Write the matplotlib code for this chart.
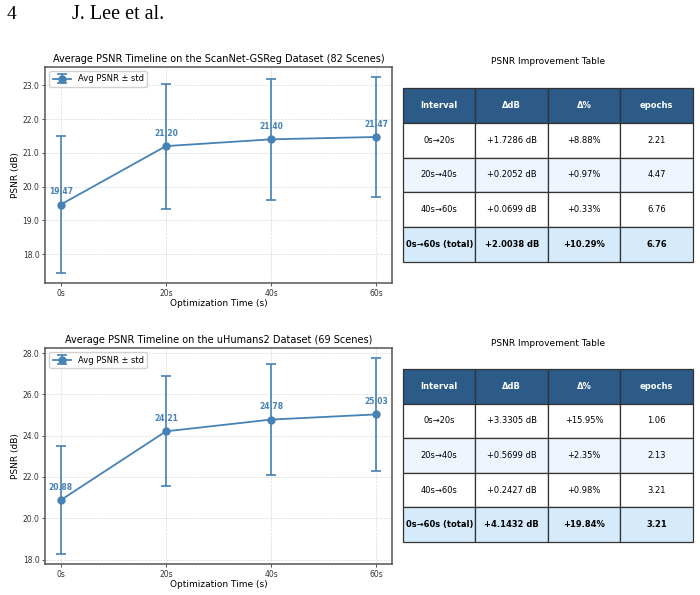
import matplotlib
matplotlib.use("Agg")
import matplotlib.pyplot as plt
import numpy as np

times = [0, 20, 40, 60]
time_labels = ["0s", "20s", "40s", "60s"]

scannet_mean = [19.47, 21.20, 21.40, 21.47]
scannet_std = [2.03, 1.85, 1.80, 1.78]
uhumans_mean = [20.88, 24.21, 24.78, 25.03]
uhumans_std = [2.62, 2.67, 2.70, 2.74]

table_cols = ["Interval", "\u0394dB", "\u0394%", "epochs"]
intervals = ["0s\u219220s", "20s\u219240s", "40s\u219260s", "0s\u219260s (total)"]
scannet_ddb = ["+1.7286 dB", "+0.2052 dB", "+0.0699 dB", "+2.0038 dB"]
scannet_dpct = ["+8.88%", "+0.97%", "+0.33%", "+10.29%"]
scannet_epochs = ["2.21", "4.47", "6.76", "6.76"]
uhumans_ddb = ["+3.3305 dB", "+0.5699 dB", "+0.2427 dB", "+4.1432 dB"]
uhumans_dpct = ["+15.95%", "+2.35%", "+0.98%", "+19.84%"]
uhumans_epochs = ["1.06", "2.13", "3.21", "3.21"]

LINE = "#4682b4"
HEADER = "#2b5b86"
ALT = "#eef5fe"
TOTAL = "#d5eafb"

fig = plt.figure(figsize=(7.0, 5.95), dpi=100)

fig.text(0.010, 0.975, "4", family="Liberation Serif", fontsize=14, va="center")
fig.text(0.103, 0.975, "J. Lee et al.", family="Liberation Serif", fontsize=14.5, va="center")


def draw_chart(rect, means, stds, title):
    ax = fig.add_axes(rect)
    ax.errorbar(times, means, yerr=stds, color=LINE, marker="o", markersize=5,
                linewidth=1.3, capsize=3.5, elinewidth=1.2, capthick=1.2,
                label="Avg PSNR \u00b1 std")
    for t, m in zip(times, means):
        ax.annotate(f"{m:.2f}", (t, m), xytext=(0, 6), textcoords="offset points",
                    ha="center", va="bottom", fontsize=5.5, fontweight="bold",
                    color=LINE)
    ax.set_xticks(times)
    ax.set_xticklabels(time_labels)
    ax.yaxis.set_major_formatter(matplotlib.ticker.FormatStrFormatter("%.1f"))
    ax.tick_params(labelsize=5.5, length=2.5, width=0.6, pad=1.5, colors="#333333")
    ax.grid(True, linestyle="--", color="#cccccc", linewidth=0.5, alpha=0.7)
    ax.set_title(title, fontsize=7, pad=3.5)
    ax.set_xlabel("Optimization Time (s)", fontsize=6.5, labelpad=1)
    ax.set_ylabel("PSNR (dB)", fontsize=6.5, labelpad=2)
    for s in ax.spines.values():
        s.set_color("#555555")
        s.set_linewidth(1.1)
    ax.legend(loc="upper left", fontsize=6, framealpha=0.9, borderpad=0.4,
              handlelength=2.2, edgecolor="#cccccc")
    return ax


def draw_table(rect, title_y, ddb, dpct, epochs):
    ax = fig.add_axes(rect)
    ax.axis("off")
    rows = [[intervals[i], ddb[i], dpct[i], epochs[i]] for i in range(len(intervals))]
    tbl = ax.table(cellText=rows, colLabels=table_cols, cellLoc="center",
                   bbox=[0, 0, 1, 1])
    tbl.auto_set_font_size(False)
    for (r, c), cell in tbl.get_celld().items():
        cell.set_edgecolor("#333333")
        cell.set_linewidth(0.9)
        cell.get_text().set_fontsize(6.0)
        if r == 0:
            cell.set_facecolor(HEADER)
            cell.get_text().set_color("white")
            cell.get_text().set_fontweight("bold")
        elif r == len(rows):
            cell.set_facecolor(TOTAL)
            cell.get_text().set_fontweight("bold")
        elif r % 2 == 0:
            cell.set_facecolor(ALT)
        else:
            cell.set_facecolor("white")
    fig.text(rect[0] + rect[2] / 2, title_y, "PSNR Improvement Table",
             ha="center", va="center", fontsize=6.5)


draw_chart([0.0643, 0.5244, 0.4957, 0.3630], scannet_mean, scannet_std,
           "Average PSNR Timeline on the ScanNet-GSReg Dataset (82 Scenes)")
draw_chart([0.0643, 0.0521, 0.4957, 0.3630], uhumans_mean, uhumans_std,
           "Average PSNR Timeline on the uHumans2 Dataset (69 Scenes)")

draw_table([0.5757, 0.5597, 0.4143, 0.2924], 0.8958, scannet_ddb, scannet_dpct, scannet_epochs)
draw_table([0.5757, 0.0891, 0.4143, 0.2908], 0.4235, uhumans_ddb, uhumans_dpct, uhumans_epochs)

fig.savefig("out.png", dpi=100)
